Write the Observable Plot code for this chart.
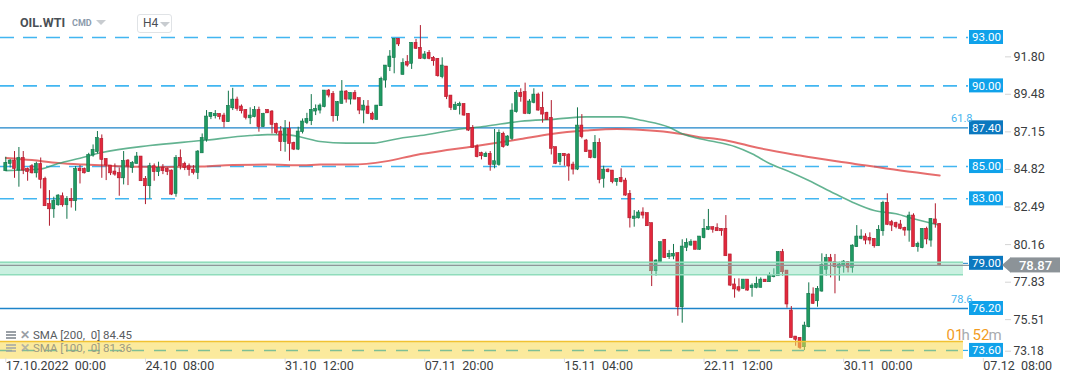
<!DOCTYPE html>
<html><head><meta charset="utf-8">
<script src="https://cdn.jsdelivr.net/npm/d3@7"></script>
<script src="https://cdn.jsdelivr.net/npm/@observablehq/plot@0.6"></script>
<style>
body{margin:0;background:#fff;font-family:Roboto,"Noto Sans",sans-serif;}
#wrap{position:relative;width:1072px;height:382px;overflow:hidden;background:#fff;}
#chart{position:absolute;left:0;top:0;}
.ov{position:absolute;white-space:nowrap;}
#sym{left:20px;top:15px;font-size:12.5px;font-weight:700;color:#4a4f55;}
#cmd{left:72px;top:18px;font-size:9px;font-weight:700;color:#8a9aab;}
.tri{position:absolute;width:0;height:0;border-left:5px solid transparent;border-right:5px solid transparent;border-top:5px solid #c8ccd0;}
#h4{left:137px;top:14px;width:33px;height:17px;border:1px solid #e0e3e6;border-radius:3px;font-size:12px;color:#4a4f55;}
#h4 span{position:absolute;left:5px;top:1px;}
.leg{left:6px;font-size:11.5px;color:#585c60;display:flex;align-items:center;}
.ico{display:inline-block;width:10px;height:8px;margin-right:4px;background:linear-gradient(#9aa0a6 0 2px,transparent 2px 3px,#9aa0a6 3px 5px,transparent 5px 6px,#9aa0a6 6px 8px);}
.x{display:inline-block;width:10px;font-weight:700;color:#9aa0a6;margin-right:3px;font-size:12px;}
</style></head><body>
<div id="wrap">
<div id="chart"></div>
<div class="ov" id="sym">OIL.WTI</div>
<div class="ov" id="cmd">CMD</div>
<div class="tri" style="left:96px;top:20px;"></div>
<div class="ov" id="h4"><span>H4</span><div class="tri" style="left:22px;top:7px;"></div></div>
<div class="ov leg" style="top:328px;"><span class="ico"></span><span class="x">✕</span><span>SMA [200,&nbsp; 0] 84.45</span></div>
<div class="ov leg" style="top:341px;color:#9c9a82;"><span class="ico" style="opacity:.7"></span><span class="x" style="opacity:.7">✕</span><span>SMA [100,&nbsp; 0] 81.36</span></div>
</div>
<script>
// ---------- DATA ----------
const candleOpen = [
84.71,85.16,85.37,84.75,85.53,84.85,85.02,84.58,85.16,84.23,
82.68,82.35,82.60,83.16,82.60,82.99,82.85,84.87,84.85,84.65,
85.68,85.89,86.71,85.47,85.06,84.69,84.60,84.27,85.37,84.91,
85.16,85.62,84.23,83.78,85.02,84.65,84.91,84.85,84.75,83.30,
85.53,85.16,85.02,84.81,84.60,85.82,86.65,88.06,88.12,88.26,
88.16,87.75,88.61,89.15,88.72,88.51,87.99,88.06,88.51,87.44,
88.51,88.41,87.64,87.17,86.51,87.33,86.46,86.05,87.13,87.70,
87.81,88.41,88.47,88.68,89.71,89.50,88.12,88.88,89.65,89.15,
89.56,89.24,88.47,88.72,88.27,87.89,88.74,90.33,91.16,91.72,
92.92,90.68,91.47,91.37,92.67,92.36,91.68,92.05,91.74,91.68,
90.54,91.20,89.40,88.51,88.74,88.88,88.27,87.40,86.24,85.83,
85.58,85.79,85.10,85.10,87.03,86.30,86.72,88.37,89.56,89.61,
88.27,88.95,89.46,88.64,88.33,88.02,86.20,85.27,85.79,85.74,
85.12,84.81,87.54,86.61,85.99,85.52,86.47,84.24,84.81,84.75,
84.03,84.30,84.13,83.30,81.75,81.79,82.15,82.11,81.49,78.51,
79.07,80.46,79.38,79.42,79.63,76.28,79.96,80.10,80.35,79.84,
80.56,81.08,81.24,81.18,81.14,81.14,79.55,77.69,77.52,77.42,
77.99,77.46,77.48,77.48,77.99,77.83,78.14,78.20,79.69,78.55,
76.07,74.46,74.38,73.80,75.04,77.07,76.65,77.25,78.60,79.32,
79.07,78.72,78.80,79.07,78.72,80.00,80.52,80.66,80.58,80.52,
80.06,80.99,82.75,81.55,81.49,81.41,81.20,81.03,81.96,80.00,
79.94,81.14,80.41,81.72,81.45];
const candleHigh = [
85.58,85.43,85.93,86.18,85.93,84.91,85.12,85.27,85.53,84.34,
83.51,83.10,83.26,83.36,83.14,83.63,85.00,85.06,84.91,85.82,
86.34,87.17,86.96,85.47,85.06,85.16,84.91,85.93,85.43,85.31,
85.87,85.62,84.38,85.20,85.16,85.27,85.12,84.91,84.79,85.68,
86.03,85.27,85.16,85.06,85.99,87.02,88.47,88.33,88.47,88.26,
88.30,89.67,89.85,89.30,88.82,88.51,88.64,88.72,88.68,88.30,
88.51,88.47,87.69,87.48,87.85,87.75,86.51,87.44,87.95,88.30,
89.46,88.82,88.88,89.71,89.77,89.65,89.03,90.33,89.71,89.56,
89.71,89.24,89.09,89.09,88.37,88.78,90.54,91.26,92.19,92.92,
92.92,91.68,91.88,92.67,92.88,93.74,92.13,92.19,91.82,91.68,
91.74,91.20,89.40,88.99,88.99,88.88,88.27,87.54,86.34,85.89,
85.89,85.93,87.30,87.27,87.13,86.92,88.89,89.71,89.82,90.17,
89.15,89.82,89.55,89.61,88.37,89.09,86.20,85.79,85.79,85.79,
85.27,88.64,88.22,86.68,85.99,86.92,86.72,85.02,84.86,84.75,
84.24,84.86,84.27,83.51,82.27,82.27,82.44,82.11,81.49,79.22,
80.31,80.46,79.80,80.17,79.63,80.46,80.52,80.46,80.35,80.66,
81.72,82.34,81.24,81.45,81.14,81.96,79.55,78.04,78.04,77.99,
77.99,77.73,78.14,78.10,77.99,78.41,78.66,79.73,79.86,78.55,
76.32,74.46,74.38,75.35,77.79,77.48,77.56,79.59,79.55,79.55,
79.55,79.07,79.17,79.11,80.15,81.34,81.08,80.83,80.89,80.52,
81.34,82.85,83.31,81.66,81.55,81.66,81.24,82.17,82.07,80.31,
81.14,81.24,81.76,82.69,81.45];
const candleLow = [
84.71,84.91,84.27,83.72,84.50,84.09,84.54,84.29,83.61,82.54,
81.30,81.79,82.54,82.48,81.73,82.43,82.23,83.92,84.54,84.65,
85.58,85.78,84.27,84.13,84.44,84.40,83.16,83.86,83.82,84.58,
85.16,84.09,82.64,82.99,84.09,84.38,84.50,84.44,83.20,83.10,
84.79,84.75,84.40,84.48,84.19,85.82,86.51,87.91,87.95,87.89,
87.40,87.75,88.47,88.43,88.26,87.89,87.60,88.02,87.13,87.44,
88.30,87.02,86.98,85.93,85.89,85.33,85.99,85.99,87.02,87.60,
87.54,88.16,88.26,88.64,89.26,87.75,87.81,88.88,88.93,88.82,
89.15,88.22,87.65,88.22,87.85,87.89,88.74,89.86,90.89,90.75,
92.44,90.68,91.16,91.02,92.26,91.64,91.62,91.62,91.22,90.54,
90.44,89.15,88.47,88.51,88.20,88.12,87.17,86.16,85.54,85.41,
85.58,84.71,84.86,85.02,86.14,86.24,86.61,88.31,88.99,88.22,
88.22,88.89,88.43,87.69,87.85,85.72,85.12,85.06,85.02,84.09,
84.48,84.75,86.72,85.89,85.48,85.48,83.93,83.66,84.61,83.93,
83.78,83.99,83.16,81.19,81.24,81.75,81.75,81.30,77.56,78.20,
79.03,79.32,79.24,79.22,75.72,75.29,79.73,80.06,79.84,79.80,
80.52,81.03,80.87,80.99,80.68,79.44,77.56,76.84,77.21,77.38,
77.27,76.90,77.42,77.48,77.83,77.83,78.10,78.20,78.20,76.22,
74.36,73.86,73.66,73.59,75.00,76.45,76.28,77.21,78.20,78.10,
77.11,77.89,78.39,78.41,78.39,80.00,80.46,80.15,80.15,79.94,
80.06,80.68,81.34,80.97,81.14,81.08,80.68,80.31,80.00,79.69,
79.90,80.15,80.00,81.18,78.80];
const candleClose = [
85.23,85.37,84.85,85.53,84.75,84.65,84.58,85.16,84.17,82.54,
82.35,82.87,83.20,82.60,82.99,82.85,84.85,84.71,84.58,85.72,
86.03,86.77,85.41,85.06,84.58,84.50,84.27,85.35,85.00,85.22,
85.62,84.09,83.78,85.02,84.65,84.91,84.71,84.65,83.26,85.53,
85.02,84.91,84.79,84.60,85.93,86.77,88.10,88.33,88.26,88.06,
87.75,88.76,89.15,88.57,88.43,88.02,88.16,88.51,87.44,88.26,
88.30,87.58,87.07,86.51,87.33,86.40,86.05,87.17,87.79,87.95,
88.51,88.57,88.78,89.71,89.40,88.12,88.99,89.65,89.15,89.56,
89.15,88.47,88.78,88.27,87.91,88.78,90.44,91.26,91.82,92.92,
92.57,91.41,91.26,92.67,92.30,91.68,91.95,91.68,91.53,90.60,
91.26,89.30,88.64,88.82,88.88,88.16,87.23,86.16,85.58,85.64,
85.79,85.10,85.33,87.09,86.20,86.86,88.47,89.56,89.30,88.27,
89.03,89.46,88.47,88.22,87.89,86.10,85.17,85.79,85.64,85.00,
84.81,87.54,86.82,85.89,85.52,86.47,84.17,84.81,84.65,84.03,
84.24,84.03,83.20,81.79,81.90,82.15,81.96,81.30,78.51,79.17,
80.31,79.32,79.59,79.59,76.28,80.04,80.27,80.31,79.84,80.66,
81.14,81.24,81.08,80.99,80.99,79.44,77.62,77.38,77.31,77.99,
77.31,77.62,77.73,77.99,77.83,78.24,78.24,79.69,78.45,76.45,
74.36,74.26,73.76,75.14,77.11,76.49,77.42,78.90,79.32,79.07,
78.76,78.93,79.11,78.72,80.10,80.66,80.66,80.41,80.41,80.06,
81.08,82.75,81.39,81.34,81.24,81.14,81.03,81.96,80.00,80.21,
81.14,80.48,81.76,81.45,78.87];

const sma200Bar = [0,6,12,18,25,31,37,45,52,60,68,72,79,87,94,102,110,118,125,133,140,146,152,155,159,163,167,171,182,194,205,214];
const sma200Val = [85.53,85.40,85.22,85.12,85.04,84.98,84.97,85.00,85.10,85.12,85.08,85.12,85.12,85.32,85.72,86.05,86.36,86.71,87.02,87.23,87.33,87.27,87.13,87.02,86.82,86.71,86.51,86.24,85.68,85.19,84.75,84.45];
const sma100Bar = [0,8,12,17,22,33,45,56,60,64,68,72,78,84,87,91,95,103,110,118,126,133,141,146,152,155,159,163,167,171,175,180,184,190,194,199,204,208,214];
const sma100Val = [84.75,84.85,85.19,85.52,85.87,86.30,86.61,86.92,86.98,86.98,86.80,86.55,86.45,86.45,86.57,86.78,86.92,87.28,87.50,87.81,87.94,88.08,88.08,87.85,87.44,87.03,86.72,86.51,86.24,85.79,85.19,84.63,84.13,83.31,82.79,82.27,82.07,81.76,81.36];

const dashedLevels = [93.00, 90.00, 85.00, 83.00];
const solidLevels = [87.40, 76.20];
const zoneGreen = {level: 79.00, low: 78.29, high: 79.07};
const zoneYellow = {level: 73.60, low: 73.05, high: 74.15};
const labelLevels = [93.00, 90.00, 87.40, 85.00, 83.00, 79.00, 76.20, 73.60];
const darkLabelLevels = [87.40, 79.00];
const fiboTexts = [{level: 87.40, text: "61.8"}, {level: 76.20, text: "78.6"}];
const lastPrice = 78.87;
const yTickValues = [91.80, 89.48, 87.15, 84.82, 82.49, 80.16, 77.83, 75.51, 73.18];
const xTickBars = [0, 32, 64, 96, 128, 160, 192, 224];
const xTickLabels = ["17.10.2022  00:00","24.10  08:00","31.10  12:00","07.11  20:00","15.11  04:00","22.11  12:00","30.11  00:00","07.12  08:00"];
const countdown = [{t:"01",c:"orange"},{t:"h",c:"grey"},{t:"52",c:"orange"},{t:"m",c:"grey"}];

// ---------- LAYOUT ----------
const W = 1072, H = 382, mR = 68, mT = 20, mB = 24;
const X0 = 5.3, STEP = 4.364, PXU = 16.13;
const px2bar = px => (px - X0) / STEP;
const pxH = px => px / PXU;
const xDomain = [px2bar(0), px2bar(W - mR)];
const yDomain = [73.10, 94.054];

const candles = candleOpen.map((o, i) => ({i, o, h: candleHigh[i], l: candleLow[i], c: candleClose[i], up: candleClose[i] >= o}));
const s200 = sma200Bar.map((b, k) => ({b, v: sma200Val[k]}));
const s100 = sma100Bar.map((b, k) => ({b, v: sma100Val[k]}));
const lineEnd = px2bar(968), zoneEnd = px2bar(963), lblX1 = px2bar(969), lblX2 = px2bar(1003);
const labels = labelLevels.map(v => ({v, dark: darkLabelLevels.includes(v)}));

const GREEN = "#1f9a62", GREEN_D = "#11744a", RED = "#e2283c", RED_D = "#b01a2c";
const BLUE_DASH = "#2eaef0", BLUE_SOLID = "#1d84c9";

const bodyLo = d => Math.min(d.o, d.c);
const bodyHi = d => Math.max(Math.max(d.o, d.c), Math.min(d.o, d.c) + 0.07);

const chart = Plot.plot({
  width: W, height: H,
  marginLeft: 0, marginRight: mR, marginTop: mT, marginBottom: mB,
  x: {domain: xDomain, axis: null},
  y: {domain: yDomain, axis: null},
  style: {fontFamily: "Roboto, 'Noto Sans', sans-serif", background: "transparent", overflow: "visible"},
  marks: [
    Plot.ruleY(dashedLevels, {y: d => d, x1: px2bar(0), x2: lineEnd, stroke: BLUE_DASH, strokeWidth: 1.6, strokeDasharray: "14,9", strokeOpacity: 0.9}),
    Plot.ruleY(solidLevels, {y: d => d, x1: px2bar(0), x2: lineEnd, stroke: BLUE_SOLID, strokeWidth: 1.3}),
    Plot.line(s200, {x: "b", y: "v", stroke: "#e04848", strokeWidth: 2, strokeOpacity: 0.8, curve: "monotone-x"}),
    Plot.line(s100, {x: "b", y: "v", stroke: "#2f9a6c", strokeWidth: 1.6, strokeOpacity: 0.75, curve: "monotone-x"}),
    Plot.ruleX(candles, {x: "i", y1: "l", y2: "h", stroke: d => d.up ? GREEN_D : RED_D, strokeWidth: 1}),
    Plot.rect(candles, {x1: d => d.i - 0.34, x2: d => d.i + 0.34, y1: bodyLo, y2: bodyHi, fill: d => d.up ? GREEN : RED, stroke: d => d.up ? GREEN_D : RED_D, strokeWidth: 0.6}),
    // green zone
    Plot.rect([zoneGreen], {x1: px2bar(0), x2: zoneEnd, y1: "low", y2: "high", fill: "#7fdcb5", fillOpacity: 0.42}),
    Plot.ruleY([zoneGreen.low, zoneGreen.high], {y: d => d, x1: px2bar(0), x2: zoneEnd, stroke: "#8fdcbb", strokeWidth: 1.5}),
    Plot.ruleY([zoneGreen.level], {y: d => d, x1: zoneEnd, x2: lineEnd, stroke: BLUE_SOLID, strokeWidth: 1}),
    Plot.ruleY([lastPrice], {y: d => d, x1: px2bar(0), x2: px2bar(1004), stroke: "#8f9599", strokeWidth: 1.2}),
    // yellow zone
    Plot.rect([zoneYellow], {x1: px2bar(0), x2: zoneEnd, y1: "low", y2: "high", fill: "#f8d94c", fillOpacity: 0.55}),
    Plot.ruleY([zoneYellow.high], {y: d => d, x1: px2bar(0), x2: zoneEnd, stroke: "#f1c232", strokeWidth: 1.5}),
    Plot.ruleY([zoneYellow.level], {y: d => d, x1: px2bar(0), x2: zoneEnd, stroke: "#7fbf95", strokeWidth: 1.4, strokeDasharray: "12,10"}),
    Plot.ruleY([zoneYellow.level], {y: d => d, x1: zoneEnd, x2: lineEnd, stroke: BLUE_DASH, strokeWidth: 1.2}),
    // level labels
    Plot.rect(labels, {x1: lblX1, x2: lblX2, y1: d => d.v - pxH(7), y2: d => d.v + pxH(7), fill: d => d.dark ? "#0b78bf" : "#10a2ea"}),
    Plot.text(labels, {x: (lblX1 + lblX2) / 2, y: "v", text: d => d.v.toFixed(2), fill: "white", fontSize: 11.5}),
    Plot.text(fiboTexts, {x: px2bar(972), y: d => d.level + pxH(9), text: "text", textAnchor: "end", fill: "#45b4ef", fontSize: 11}),
    // right price axis
    Plot.axisY({anchor: "right", ticks: yTickValues.slice(0, -1), tickFormat: d => d.toFixed(2), tickSize: 6, tickPadding: 3, stroke: "#d4d4d4", fill: "#3a3d40", fontSize: 12.5, label: null}),
    Plot.axisY({anchor: "right", ticks: yTickValues.slice(-1), tickFormat: d => d.toFixed(2), tickSize: 6, tickPadding: 3, stroke: "#d4d4d4", fill: "#3a3d40", fontSize: 12, label: null, dy: -6}),
    // last price tag
    Plot.areaY([{x: px2bar(1002), a: lastPrice, b: lastPrice}, {x: px2bar(1010.5), a: lastPrice - pxH(7.5), b: lastPrice + pxH(7.5)}], {x: "x", y1: "a", y2: "b", fill: "#8c9398"}),
    Plot.rect([lastPrice], {x1: px2bar(1010), x2: px2bar(1060), y1: d => d - pxH(7.5), y2: d => d + pxH(7.5), fill: "#8c9398"}),
    Plot.text([lastPrice], {x: px2bar(1035), y: d => d, text: d => d.toFixed(2), fill: "white", fontSize: 13, fontWeight: 500}),
    // countdown
    Plot.text(countdown, {x: (d, k) => px2bar([946, 961, 972, 988][k]), y: 74.52, text: "t", textAnchor: "start", fill: d => d.c === "orange" ? "#f39c1f" : "#a8abae", fontSize: 15}),
    // time axis
    Plot.ruleX(xTickBars, {x: d => d, y1: yDomain[0], y2: yDomain[0] - pxH(4), stroke: "#dcdcdc"}),
    Plot.text(xTickBars, {x: d => d, text: (d, k) => xTickLabels[k].replace(/ /g, "\u00a0"), frameAnchor: "bottom", dy: 11, textAnchor: "start", fill: "#3a3d40", fontSize: 12.5})
  ]
});
document.getElementById("chart").appendChild(chart);
</script>
</body></html>
